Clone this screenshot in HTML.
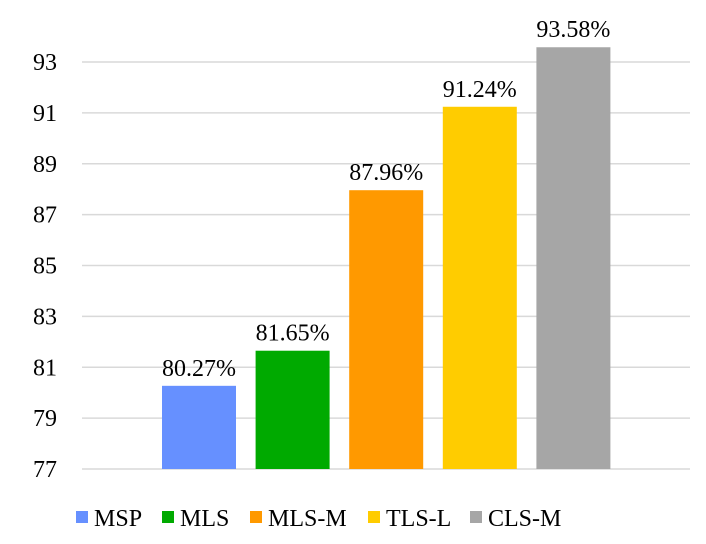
<!DOCTYPE html>
<html><head><meta charset="utf-8"><style>
body{margin:0;background:#fff}
svg{display:block}
text{font-family:"Liberation Serif","DejaVu Serif",serif}
</style></head><body>
<svg id="c" width="706" height="544"></svg>
<script>
const categories=["MSP","MLS","MLS-M","TLS-L","CLS-M"];
const values=[80.27,81.65,87.96,91.24,93.58];
const labels=["80.27%","81.65%","87.96%","91.24%","93.58%"];
const ticks=[77,79,81,83,85,87,89,91,93];
const colors=["#6690ff","#00aa00","#ff9900","#ffcc00","#a6a6a6"];
const NS="http://www.w3.org/2000/svg";
const svg=document.getElementById('c');
const y=v=>469-(v-77)*(469-62)/16;
const x=i=>152+i*93.6;
const bw=74;
const FF='"Liberation Serif","DejaVu Serif",serif';
function mk(t,a,p){const e=document.createElementNS(NS,t);for(const k in a)e.setAttribute(k,a[k]);(p||svg).appendChild(e);return e;}
ticks.forEach(t=>{
 const l=mk('line',{x1:82,x2:690,y1:y(t),y2:y(t),stroke:'#d9d9d9','stroke-width':1.5});
 
 
 const tx=mk('text',{x:57,y:y(t)+8,'text-anchor':'end','font-size':24,'font-family':FF,fill:'#000'});
 tx.textContent=t;
 
 
});
values.forEach((v,i)=>{
 const r=mk('rect',{x:x(i)+10,y:y(v),width:bw,height:y(77)-y(v),fill:colors[i]});
 
 
 const t=mk('text',{x:x(i)+10+bw/2,y:y(v)-10,'text-anchor':'middle','font-size':24,'font-family':FF,fill:'#000'});
 t.textContent=labels[i];
 
 
});
const lx=[76,162,250,368,470];
categories.forEach((c,i)=>{
 const g=mk('g',{});
 
 
 mk('rect',{x:lx[i],y:511,width:12,height:12,fill:colors[i]},g);
 const t=mk('text',{x:lx[i]+18,y:526,'font-size':24,'font-family':FF,fill:'#000'},g);
 t.textContent=c;
});
</script>
</body></html>
